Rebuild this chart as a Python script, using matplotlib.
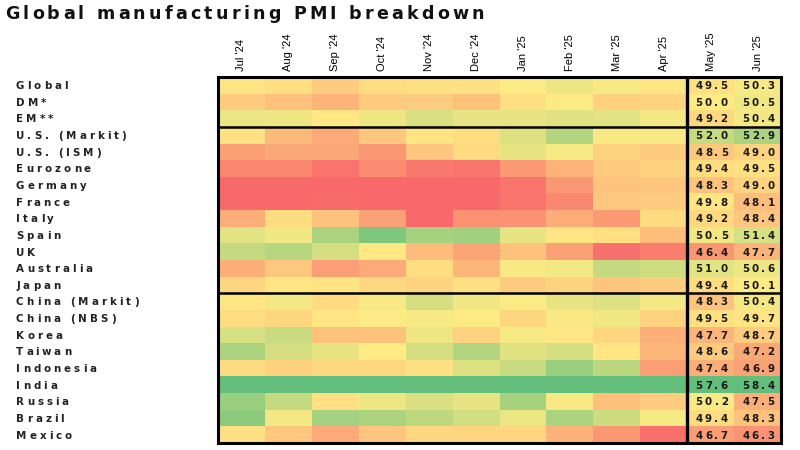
import numpy as np
import matplotlib
matplotlib.use("Agg")
import matplotlib.pyplot as plt
from matplotlib.colors import LinearSegmentedColormap, Normalize

plt.rcParams['font.family'] = ['Liberation Sans', 'DejaVu Sans']

months = ["Jul '24", "Aug '24", "Sep '24", "Oct '24", "Nov '24", "Dec '24",
          "Jan '25", "Feb '25", "Mar '25", "Apr '25", "May '25", "Jun '25"]

regions = ["Global", "DM*", "EM**", "U.S. (Markit)", "U.S. (ISM)", "Eurozone",
           "Germany", "France", "Italy", "Spain", "UK", "Australia", "Japan",
           "China (Markit)", "China (NBS)", "Korea", "Taiwan", "Indonesia",
           "India", "Russia", "Brazil", "Mexico"]

global_pmi = [49.7, 49.5, 48.7, 49.4, 49.5, 49.6, 50.1, 50.6, 50.3, 49.8, 49.5, 50.3]
dm_pmi = [48.7, 48.2, 47.7, 48.6, 48.7, 48.2, 49.5, 50.1, 48.9, 49.0, 50.0, 50.5]
em_pmi = [50.7, 50.6, 49.9, 50.6, 51.3, 50.8, 50.8, 51.1, 51.0, 50.4, 49.2, 50.4]
us_markit = [49.6, 47.9, 47.3, 48.5, 49.7, 49.4, 51.2, 52.7, 50.2, 50.2, 52.0, 52.9]
us_ism = [46.8, 47.2, 47.2, 46.5, 48.4, 49.3, 50.9, 50.3, 49.0, 48.7, 48.5, 49.0]
eurozone = [45.8, 45.8, 45.0, 46.0, 45.2, 45.1, 46.6, 47.6, 48.6, 49.0, 49.4, 49.5]
germany = [43.2, 42.4, 40.6, 43.0, 43.0, 42.5, 45.0, 46.5, 48.3, 48.4, 48.3, 49.0]
france = [44.0, 43.9, 44.6, 44.5, 43.1, 41.9, 45.0, 45.8, 48.5, 48.7, 49.8, 48.1]
italy = [47.4, 49.4, 48.3, 46.9, 44.5, 46.2, 46.3, 47.4, 46.6, 49.3, 49.2, 48.4]
spain = [51.0, 50.5, 53.0, 54.5, 53.1, 53.3, 50.9, 49.7, 49.5, 48.1, 50.5, 51.4]
uk = [52.1, 52.5, 51.5, 49.9, 48.0, 47.0, 48.3, 46.9, 44.9, 45.4, 46.4, 47.7]
australia = [47.5, 48.5, 46.7, 47.3, 49.4, 47.8, 50.2, 50.4, 52.1, 51.7, 51.0, 50.6]
japan = [49.1, 49.8, 49.7, 49.2, 49.0, 49.6, 48.7, 49.0, 48.4, 48.7, 49.4, 50.1]
china_markit = [49.8, 50.4, 49.3, 50.3, 51.5, 50.5, 50.1, 50.8, 51.2, 50.4, 48.3, 50.4]
china_nbs = [49.4, 49.1, 49.8, 50.1, 50.3, 50.1, 49.1, 50.2, 50.5, 49.0, 49.5, 49.7]
korea = [51.4, 51.9, 48.3, 48.3, 50.6, 49.0, 50.3, 49.9, 49.1, 47.5, 47.7, 48.7]
taiwan = [52.9, 51.5, 50.8, 50.0, 51.5, 52.7, 51.1, 51.5, 49.8, 47.8, 48.6, 47.2]
indonesia = [49.3, 48.9, 49.2, 49.2, 49.6, 51.2, 51.9, 53.6, 52.4, 46.7, 47.4, 46.9]
india = [58.1, 57.5, 56.5, 57.5, 56.5, 56.4, 57.7, 56.3, 58.1, 58.2, 57.6, 58.4]
russia = [53.6, 52.1, 49.5, 50.6, 51.3, 50.8, 53.1, 50.2, 48.2, 48.7, 50.2, 47.5]
brazil = [54.0, 50.4, 53.2, 52.9, 52.3, 51.6, 50.7, 53.0, 51.8, 50.3, 49.4, 48.3]
mexico = [49.6, 48.5, 47.3, 48.4, 49.2, 49.1, 49.1, 47.6, 46.5, 44.8, 46.7, 46.3]

data = np.array([global_pmi, dm_pmi, em_pmi, us_markit, us_ism, eurozone, germany,
                 france, italy, spain, uk, australia, japan, china_markit, china_nbs,
                 korea, taiwan, indonesia, india, russia, brazil, mexico])

n_rows, n_cols = data.shape

# Excel-style red-yellow-green scale centred on 50
lo, mid, hi = 44.5, 50.0, 55.5
cmap = LinearSegmentedColormap.from_list(
    "ryg", [(0.0, "#F8696B"), ((mid - lo) / (hi - lo), "#FFEB84"), (1.0, "#63BE7B")])
norm = Normalize(vmin=lo, vmax=hi, clip=True)

W, H = 800, 450
fig = plt.figure(figsize=(8, 4.5), dpi=100)
renderer = fig.canvas.get_renderer()

def text_width(s, **kw):
    t = fig.text(0, 0, s + "|", **kw)
    w1 = t.get_window_extent(renderer).width
    t.remove()
    t = fig.text(0, 0, "|", **kw)
    w0 = t.get_window_extent(renderer).width
    t.remove()
    return w1 - w0

def spaced_text(x_px, y_px, s, spacing, ha="left", **kw):
    total = text_width(s, **kw) + spacing * (len(s) - 1)
    x0 = x_px - total / 2 if ha == "center" else x_px
    for i, ch in enumerate(s):
        if ch == " ":
            continue
        off = text_width(s[:i], **kw) if i else 0.0
        fig.text((x0 + off + spacing * i) / W, 1 - y_px / H, ch,
                 ha="left", va="center", **kw)

left, right, top, bottom = 218, 781, 77, 443
ax = fig.add_axes([left / W, 1 - bottom / H, (right - left) / W, (bottom - top) / H])

ax.pcolormesh(np.arange(n_cols + 1), np.arange(n_rows + 1), data,
              cmap=cmap, norm=norm, shading="flat")
ax.set_xlim(0, n_cols)
ax.set_ylim(n_rows, 0)

row_h = (bottom - top) / n_rows
col_w = (right - left) / n_cols

# values in the last two columns
num_kw = dict(family="DejaVu Sans", fontsize=7.4, fontweight="bold", color="#1a1a1a")
for r in range(n_rows):
    for c in (n_cols - 2, n_cols - 1):
        spaced_text(left + (c + 0.5) * col_w + 1, top + (r + 0.55) * row_h,
                    f"{data[r, c]:.1f}", 2.4, ha="center", **num_kw)

# month labels on top, rotated
ax.set_xticks(np.arange(n_cols) + 0.5)
ax.set_xticklabels(months, rotation=90, fontsize=8)
ax.xaxis.tick_top()
ax.tick_params(axis="x", length=0, pad=4)
ax.set_yticks([])

# row labels
lab_kw = dict(family="DejaVu Sans", fontsize=7.4, fontweight="bold", color="#222222")
for r, name in enumerate(regions):
    spaced_text(16, top + (r + 0.55) * row_h, name, 3.0, **lab_kw)

# borders
for s in ax.spines.values():
    s.set_linewidth(2.2)
    s.set_color("black")
ax.axvline(n_cols - 2, color="black", lw=2.4)
for yb in (3, 13):
    ax.axhline(yb, color="black", lw=1.8)

spaced_text(5, 14, "Global manufacturing PMI breakdown", 3.2,
            family="DejaVu Sans", fontsize=12.6, fontweight="bold", color="#111111")

fig.savefig("out.png", dpi=100)
